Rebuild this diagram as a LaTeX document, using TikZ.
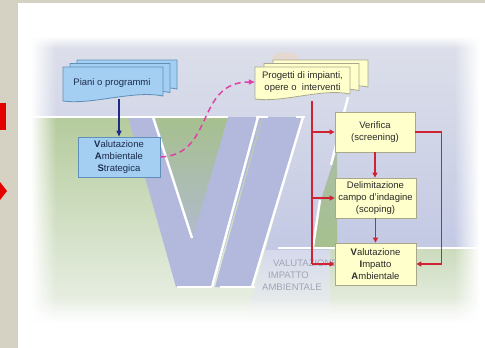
\documentclass[tikz,border=0pt]{standalone}
\usepackage{fontspec}
\setmainfont{Liberation Sans}
\usetikzlibrary{arrows.meta,fadings}
\definecolor{pagebg}{HTML}{D6D2C3}
\definecolor{skytop}{HTML}{DDE0EA}
\definecolor{skybot}{HTML}{C3C9E4}
\definecolor{grass}{HTML}{B4CB9C}
\definecolor{grasslight}{HTML}{EDF2EA}
\definecolor{notch}{HTML}{A6C08E}
\definecolor{letter}{HTML}{B3B9DD}
\definecolor{bluefill}{HTML}{A4CFF2}
\definecolor{blueline}{HTML}{5E8FBA}
\definecolor{bluetext}{HTML}{1C2C4C}
\definecolor{navy}{HTML}{1E2A86}
\definecolor{yelfill}{HTML}{FFFFCC}
\definecolor{yelline}{HTML}{A9A88A}
\definecolor{yeltext}{HTML}{2A2A2A}
\definecolor{redc}{HTML}{CF2233}
\definecolor{magc}{HTML}{E040A6}
\definecolor{ghost}{HTML}{A0A4B6}
\newcommand{\docshape}[6]{%
  \filldraw[#5,#6] (#1,#2) -- (#3,#2) -- (#3,#4-5)
    .. controls ({#3-0.3*(#3-#1)},#4-11) and ({#1+0.3*(#3-#1)},#4+4) .. (#1,#4) -- cycle;}
\begin{document}
\begin{tikzpicture}[x=1pt,y=-1pt,
  every node/.style={font=\fontsize{9.5}{12}\selectfont},
  bluebox/.style={draw=blueline, fill=bluefill, line width=0.8pt, minimum width=82pt,
    minimum height=40pt, align=center, inner sep=0pt, text=bluetext},
  yelbox/.style={draw=yelline, fill=yelfill, line width=0.8pt, minimum width=80pt,
    minimum height=40pt, align=center, inner sep=0pt, text=yeltext},
  docblue/.style={fill=bluefill, draw=blueline, line width=0.8pt},
  docyel/.style={fill=yelfill, draw=yelline, line width=0.8pt},
  redln/.style={draw=redc, line width=1.4pt},
  redarr/.style={redln, -{Triangle[length=5pt,width=5pt]}},
  whiteln/.style={draw=white, line width=2.4pt},
  ghosttext/.style={text=ghost, anchor=west, inner sep=0pt, font=\fontsize{9.5}{11}\selectfont}
]
\useasboundingbox (0,0) rectangle (485,348);
% page
\fill[pagebg] (0,0) rectangle (485,348);
\fill[white] (18,3) rectangle (485,348);
\fill[red!90!black] (0,103) rectangle (6,130);
\fill[red!90!black] (0,182) -- (7,191) -- (0,200) -- cycle;
% picture background
\shade[top color=skytop, bottom color=skybot] (32,37) rectangle (478,250);
\shade[top color=skybot!70!white, bottom color=grasslight] (32,250) rectangle (478,322);
\shade[top color=grass, bottom color=grasslight] (32,117) -- (303,117) -- (245,322) -- (32,322) -- cycle;
\shade[top color=grass!60!grasslight, bottom color=grasslight] (330,248) rectangle (478,322);
\fill[orange!40, opacity=0.3] (285,58) ellipse (13 and 6);
% letters V I A
\fill[letter] (128,117) -- (262,117) -- (213,287) -- (176,287) -- cycle;
\shade[top color=notch, bottom color=letter!80!notch] (155,117) -- (228,117) -- (193,238) -- cycle;
\fill[letter] (263,117) -- (303,117) -- (253,287) -- (215,287) -- cycle;
\shade[top color=notch!70!letter, bottom color=notch] (337,150) -- (337,248) -- (312,248) -- (321,200) -- cycle;
\draw[whiteln] (33,117) -- (228,117);
\draw[whiteln] (153,117) -- (192,238);
\draw[whiteln] (256,117) -- (268,117);
\draw[whiteln] (258,117) -- (212,287);
\draw[whiteln] (296,117) -- (305,117);
\draw[whiteln] (303,117) -- (252,287);
\draw[whiteln] (177,287) -- (212,287);
\draw[whiteln] (220,287) -- (255,287);
\draw[whiteln] (348,97) -- (331,165);
\draw[whiteln] (320,200) -- (313,247);
\draw[whiteln] (278,248) -- (478,248);
% ghost text
\node[ghosttext] (g1) at (273,263) {VALUTAZIONE};
\node[ghosttext] (g2) at (268,275) {IMPATTO};
\node[ghosttext] (g3) at (262,287) {AMBIENTALE};
% vignette
\fill[white, path fading=east] (31,36) rectangle (56,323);
\fill[white, path fading=west] (454,36) rectangle (479,323);
\fill[white, path fading=south] (31,36) rectangle (479,48);
\fill[white, path fading=north] (31,298) rectangle (479,323);
% nodes
\docshape{77}{60}{177}{94}{docblue}{}
\docshape{70}{63.5}{170}{97.5}{docblue}{}
\docshape{63}{67}{163}{101}{docblue}{}
\node[text=bluetext, minimum width=100pt, minimum height=32pt, inner sep=0pt] (piani) at (112,83) {Piani o programmi};
\node[bluebox] (vas) at (119,157) {\textbf{V}alutazione\\\textbf{A}mbientale\\\textbf{S}trategica};
\docshape{273}{60}{368}{92}{docyel}{}
\docshape{264}{63.5}{359}{95.5}{docyel}{}
\docshape{255}{67}{350}{99}{docyel}{}
\node[text=yeltext, minimum width=95pt, minimum height=32pt, inner sep=0pt, align=center] (prog) at (302.5,82) {Progetti di impianti,\\opere o\ \ interventi};
\node[yelbox] (ver) at (375,132) {Verifica\\(screening)};
\node[yelbox, minimum width=81pt] (del) at (375.5,198) {Delimitazione\\campo d'indagine\\(scoping)};
\node[yelbox, minimum width=81pt, minimum height=42pt] (via) at (375.5,264) {\textbf{V}alutazione\\\textbf{I}mpatto\\\textbf{A}mbientale};
\coordinate (tx) at (312,0);
% connectors
\draw[navy, line width=1.2pt, -{Triangle[length=6pt,width=5pt]}] (piani.south -| vas.north) -- (vas.north);
\draw[redln] ([yshift=-3pt]prog.south -| tx) -- (via.west -| tx);
\draw[redarr] (ver.west -| tx) -- (ver.west);
\draw[redarr] (del.west -| tx) -- (del.west);
\draw[redarr] (via.west -| tx) -- (via.west);
\draw[redarr] (ver.south) -- (ver.south |- del.north);
\draw[redarr] (del.south) -- (del.south |- via.north);
\draw[redarr] (ver.east) -- ++(26,0) |- (via.east);
\draw[magc, line width=1.5pt, dash pattern=on 6pt off 4pt, -{Triangle[length=6pt,width=5pt]}]
  (vas.east) .. controls (215,155) and (195,82) .. (prog.west);
\end{tikzpicture}
\end{document}
